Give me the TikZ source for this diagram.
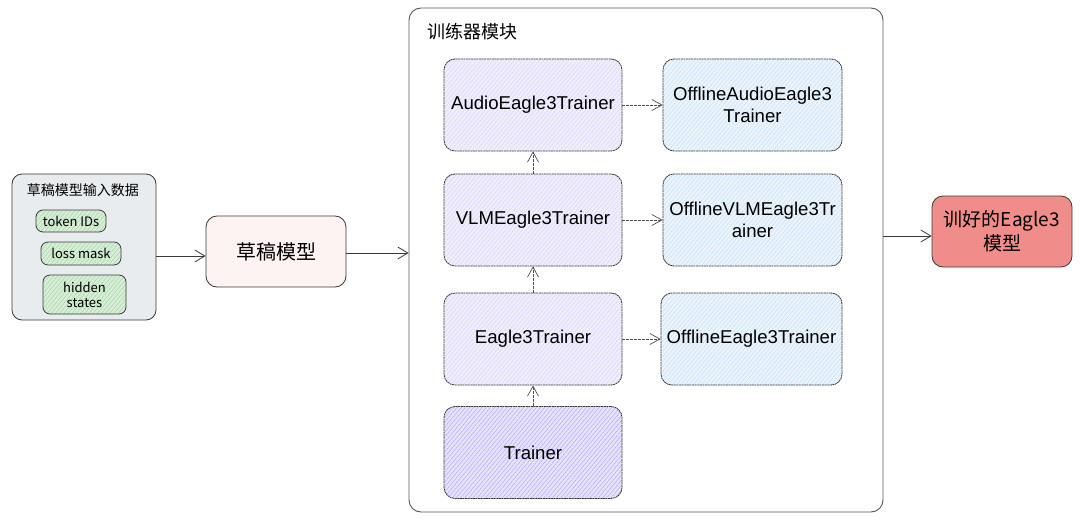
\documentclass[tikz,border=0pt]{standalone}
\usepackage{fontspec}
\setmainfont{Liberation Sans}
\newfontfamily\cjk{Noto Sans CJK SC}
\usetikzlibrary{arrows.meta,patterns.meta}
\definecolor{grpfill}{HTML}{E9ECEF}
\definecolor{grnfill}{HTML}{D6EDD6}
\definecolor{grnhatch}{HTML}{9DD09D}
\definecolor{pinkfill}{HTML}{FDF3F3}
\definecolor{lavfill}{HTML}{F0EEFD}
\definecolor{lavhatch}{HTML}{CFC8F6}
\definecolor{trfill}{HTML}{E6E1FC}
\definecolor{trhatch}{HTML}{A395EE}
\definecolor{bluefill}{HTML}{EBF4FD}
\definecolor{bluehatch}{HTML}{B5D6F5}
\definecolor{redfill}{HTML}{F08C89}
\definecolor{edge}{HTML}{3A3A3A}
\tikzset{
  base/.style={draw=edge, line width=0.8pt, rounded corners=11pt, inner sep=0pt, align=center, anchor=center},
  hatch/.style 2 args={preaction={fill=#1}, pattern={Lines[angle=50,distance=3.2pt,line width=0.35pt]}, pattern color=#2},
  grpbox/.style={base, fill=grpfill, rounded corners=10pt},
  inbox/.style={base, hatch={grnfill}{grnhatch}, rounded corners=7pt, font=\cjk\fontsize{13}{15}\selectfont},
  draftbox/.style={base, fill=pinkfill, font=\cjk\fontsize{20}{24}\selectfont},
  lavbox/.style={base, hatch={lavfill}{lavhatch}, dash pattern=on 2pt off 0.6pt, minimum width=178pt, minimum height=92pt, font=\fontsize{18.6}{21.5}\selectfont},
  trbox/.style={lavbox, hatch={trfill}{trhatch}},
  bluebox/.style={base, hatch={bluefill}{bluehatch}, dash pattern=on 2pt off 0.6pt, minimum width=179pt, minimum height=92pt, font=\fontsize{18.6}{21.5}\selectfont},
  outbox/.style={base, fill=redfill, font=\cjk\fontsize{19}{24}\selectfont},
  container/.style={draw=edge!85, line width=0.9pt, rounded corners=12pt},
  arr/.style={draw=edge, line width=0.8pt, -{Straight Barb[length=10pt,width=12pt,line width=0.8pt]}},
  darr/.style={draw=edge!90, line width=0.7pt, dash pattern=on 3pt off 1pt, -{Straight Barb[length=10pt,width=11pt,line width=0.7pt]}},
}
\begin{document}
\begin{tikzpicture}[x=1pt,y=-1pt]
\useasboundingbox (0,0) rectangle (1080,519);
% left group
\node[grpbox, minimum width=144pt, minimum height=146pt] (grp) at (84,247) {};
\node[font=\cjk\fontsize{14}{16}\selectfont, anchor=center] (grptitle) at (83,190) {草稿模型输入数据};
\node[inbox, minimum width=70pt, minimum height=22pt] (tok) at (71,221) {token IDs};
\node[inbox, minimum width=80pt, minimum height=23pt] (mask) at (81,253.5) {loss mask};
\node[inbox, minimum width=83pt, minimum height=39pt] (hid) at (84.5,294.5) {hidden\\states};
% draft model
\node[draftbox, minimum width=140pt, minimum height=71pt] (draft) at (276,251.5) {草稿模型};
% container
\node[container, minimum width=474pt, minimum height=504pt, inner sep=0pt] (cont) at (646,260) {};
\node[font=\cjk\fontsize{18}{21}\selectfont, anchor=west] (conttitle) at (424,32) {训练器模块};
% trainers
\node[lavbox] (audio) at (533,105) {AudioEagle3Trainer};
\node[lavbox] (vlm) at (533,220) {VLMEagle3Trainer};
\node[lavbox] (eagle) at (533,339) {Eagle3Trainer};
\node[trbox] (trainer) at (533,452.5) {Trainer};
\node[bluebox] (oaudio) at (752.5,105) {OfflineAudioEagle3\\Trainer};
\node[bluebox] (ovlm) at (752.5,220) {OfflineVLMEagle3Tr\\ainer};
\node[bluebox, minimum width=181pt] (oeagle) at (751.5,339) {OfflineEagle3Trainer};
% output
\node[outbox, minimum width=140pt, minimum height=71pt] (out) at (1002,231.5) {训好的Eagle3\\模型};
% connectors
\draw[arr] (grp.east |- 0,256) -- (draft.west |- 0,256);
\draw[arr] (draft.east |- 0,253) -- (cont.west |- 0,253);
\draw[arr] (cont.east |- 0,236) -- (out.west |- 0,236);
\draw[darr] (trainer.north) -- (eagle.south);
\draw[darr] (eagle.north) -- (vlm.south);
\draw[darr] (vlm.north) -- (audio.south);
\draw[darr] (audio.east) -- (oaudio.west);
\draw[darr] (vlm.east) -- (ovlm.west);
\draw[darr] (eagle.east) -- (oeagle.west);
\end{tikzpicture}
\end{document}
